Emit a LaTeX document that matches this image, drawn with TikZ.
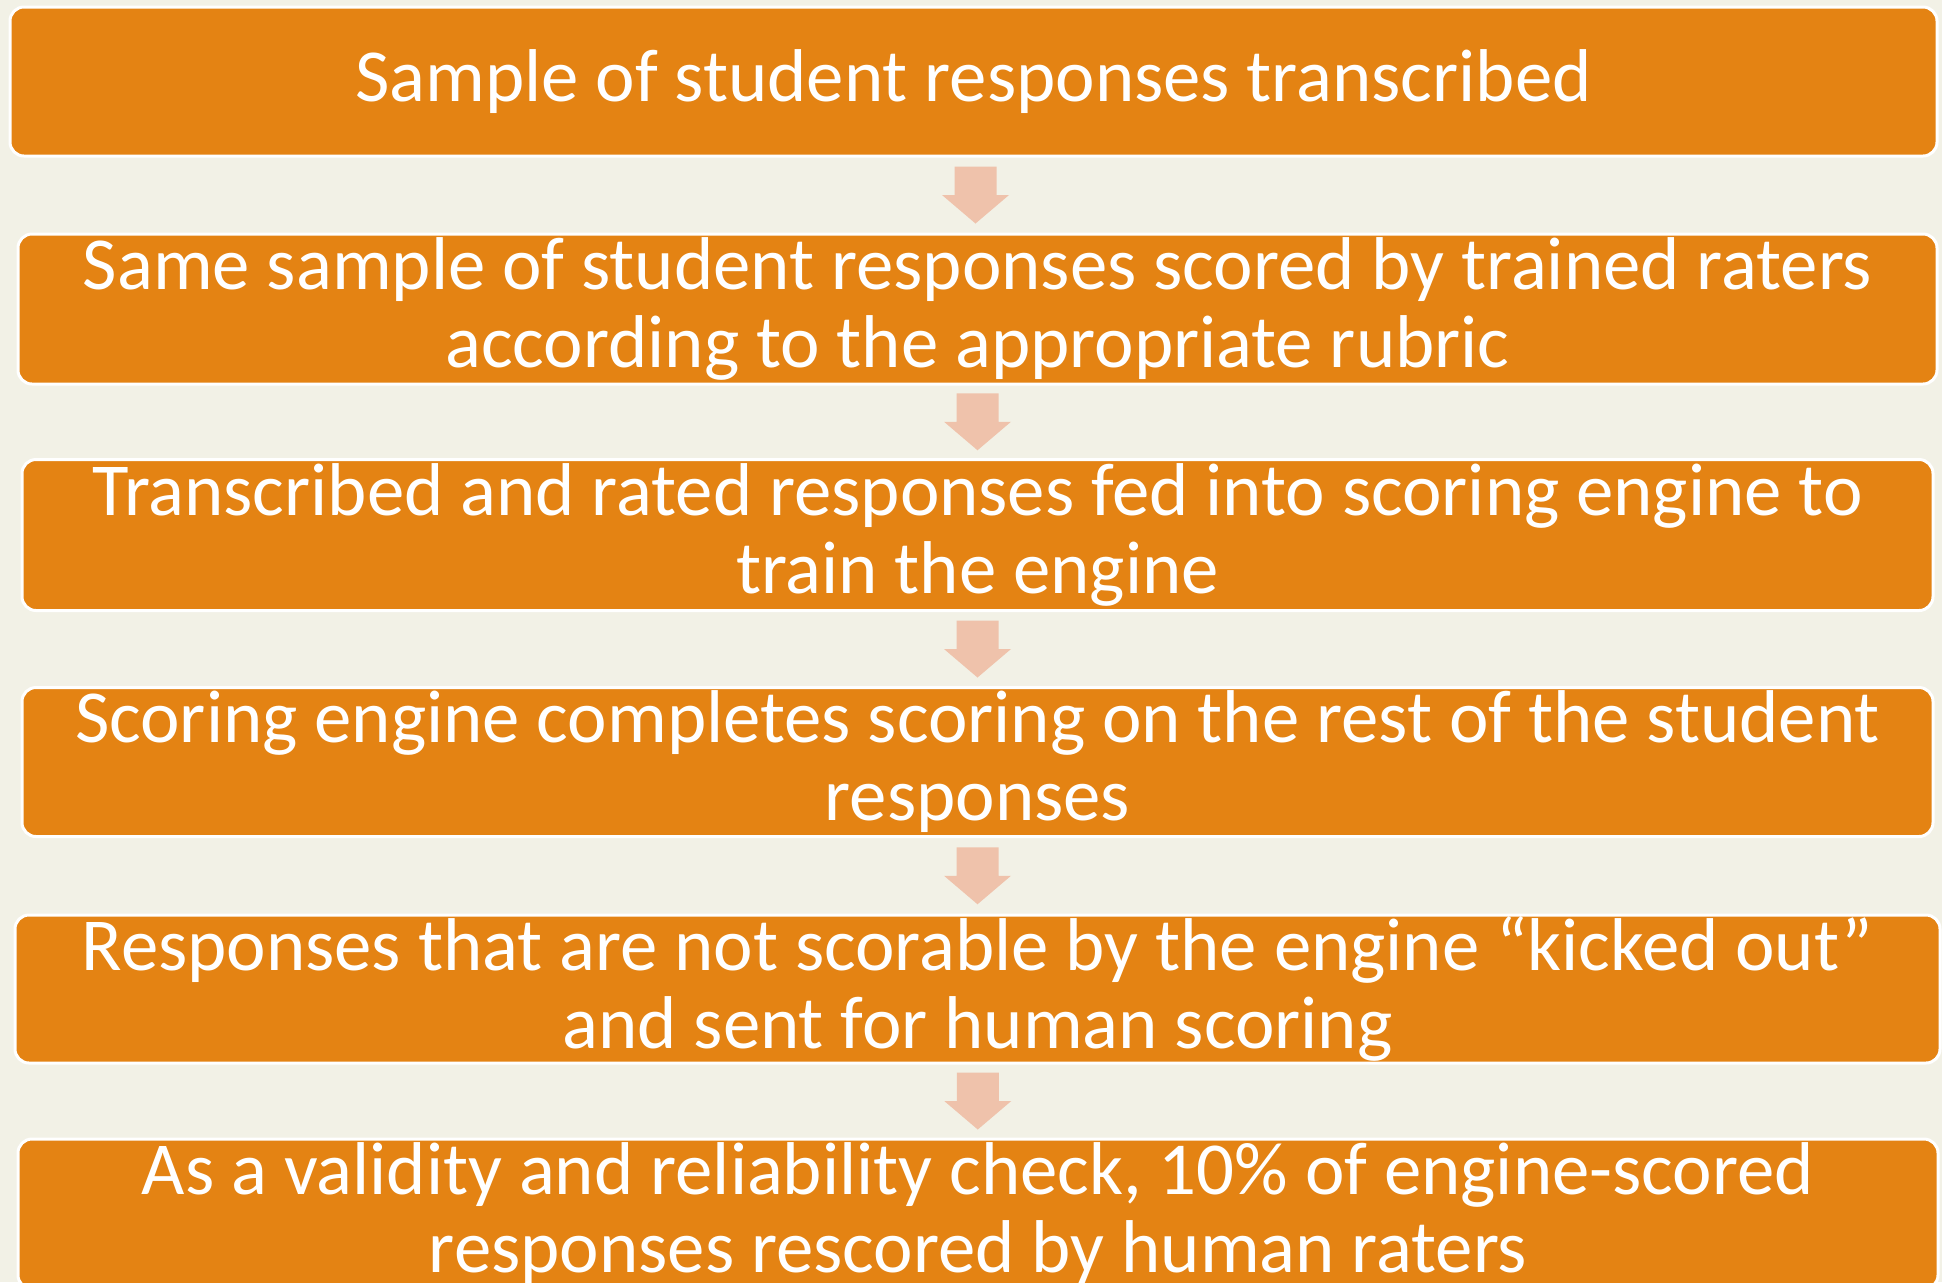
\documentclass[tikz,border=0pt]{standalone}
\usepackage{fontspec}
\setmainfont{Carlito}
\usetikzlibrary{calc}
\definecolor{bgc}{HTML}{F2F1E6}
\definecolor{boxorange}{HTML}{E48313}
\definecolor{arrowc}{HTML}{EFC2AB}
\tikzset{
  blk/.style={draw=white, line width=1.5pt, fill=boxorange, rounded corners=7pt,
    text=white, align=center, inner sep=0pt,
    font=\fontsize{37.4}{39}\selectfont},
  blockarrow/.style={fill=arrowc, draw=none}
}
\newcommand{\downarrowat}[1]{%
  \fill[blockarrow] ($#1+(-21,-28.5)$) -- ($#1+(21,-28.5)$) -- ($#1+(21,0)$)
    -- ($#1+(33.5,0)$) -- ($#1+(0,28.5)$) -- ($#1+(-33.5,0)$) -- ($#1+(-21,0)$) -- cycle;}
\begin{document}
\begin{tikzpicture}[x=0.5pt,y=-0.5pt]
\fill[bgc] (0,0) rectangle (1942,1282);
\useasboundingbox (0,0) rectangle (1942,1282);
\node[blk, minimum width=963.5pt, minimum height=74.5pt] (b1) at (973.5,81.5)
  {Sample of student responses transcribed};
\node[blk, minimum width=959.5pt, minimum height=75pt] (b2) at (977.5,309)
  {Same sample of student responses scored by trained raters\\according to the appropriate rubric};
\node[blk, minimum width=955.5pt, minimum height=75.5pt] (b3) at (977.5,535)
  {Transcribed and rated responses fed into scoring engine to\\train the engine};
\node[blk, minimum width=955.5pt, minimum height=74.5pt] (b4) at (977.5,762)
  {Scoring engine completes scoring on the rest of the student\\responses};
\node[blk, minimum width=962.5pt, minimum height=74pt] (b5) at (977.5,989)
  {Responses that are not scorable by the engine “kicked out”\\and sent for human scoring};
\node[blk, minimum width=960pt, minimum height=75pt] (b6) at (978,1214)
  {As a validity and reliability check, 10\% of engine-scored\\responses rescored by human raters};
\coordinate (m1) at ($(b1.south)!0.5!(b2.north)$);
\coordinate (m2) at ($(b2.south)!0.5!(b3.north)$);
\coordinate (m3) at ($(b3.south)!0.5!(b4.north)$);
\coordinate (m4) at ($(b4.south)!0.5!(b5.north)$);
\coordinate (m5) at ($(b5.south)!0.5!(b6.north)$);
\downarrowat{(m1)}
\downarrowat{(m2)}
\downarrowat{(m3)}
\downarrowat{(m4)}
\downarrowat{(m5)}
\end{tikzpicture}
\end{document}
